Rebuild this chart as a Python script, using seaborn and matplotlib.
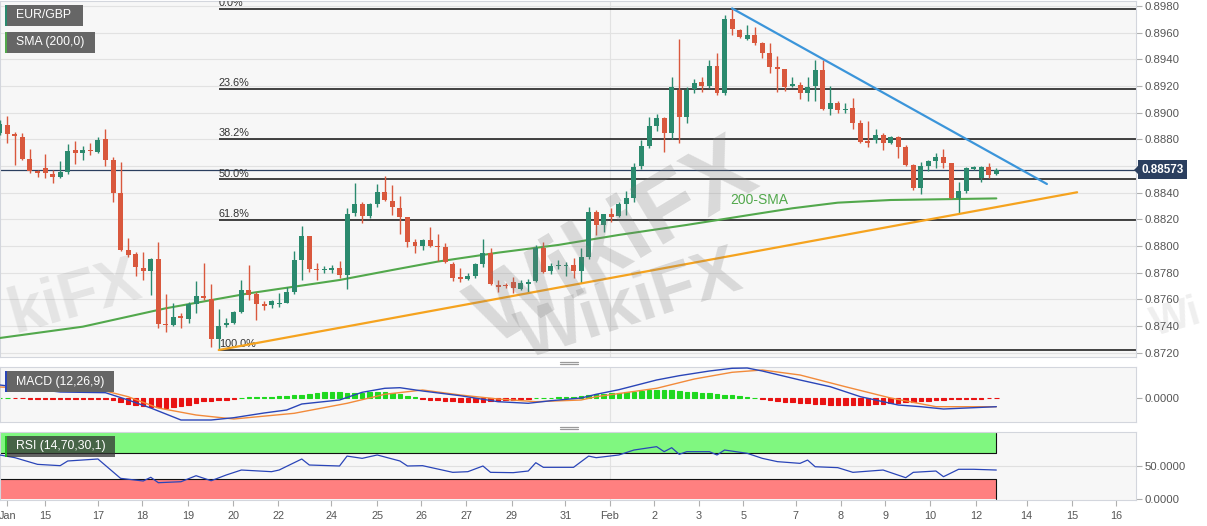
import numpy as np
import matplotlib
matplotlib.use("Agg")
import matplotlib.pyplot as plt
from matplotlib.patches import Rectangle, Polygon
from matplotlib.lines import Line2D
import matplotlib.transforms as mtransforms
import seaborn as sns

# EUR/GBP 4H candles, index -1 .. 131
opens = [0.88845, 0.88908, 0.88838, 0.88820, 0.88653, 0.88560, 0.88588, 0.88540, 0.88515, 0.88558,
         0.88720, 0.88700, 0.88720, 0.88708, 0.88800, 0.88645, 0.88400, 0.87970, 0.87938, 0.87838,
         0.87813, 0.87903, 0.87415, 0.87408, 0.87475, 0.87453, 0.87565, 0.87628, 0.87603, 0.87300,
         0.87408, 0.87425, 0.87508, 0.87670, 0.87638, 0.87565, 0.87558, 0.87563, 0.87575, 0.87658,
         0.87895, 0.88078, 0.87830, 0.87820, 0.87825, 0.87833, 0.87783, 0.88245, 0.88313, 0.88225,
         0.88313, 0.88408, 0.88340, 0.88288, 0.88215, 0.88033, 0.88003, 0.88045, 0.88000, 0.87990,
         0.87863, 0.87763, 0.87750, 0.87778, 0.87863, 0.87945, 0.87708, 0.87708, 0.87733, 0.87675,
         0.87720, 0.87738, 0.87983, 0.87815, 0.87850, 0.87850, 0.87858, 0.87815, 0.87915, 0.88258,
         0.88158, 0.88238, 0.88225, 0.88315, 0.88363, 0.88600, 0.88750, 0.88900, 0.88958, 0.88850,
         0.89170, 0.88970, 0.89175, 0.89228, 0.89200, 0.89350, 0.89150, 0.89700, 0.89620, 0.89550,
         0.89583, 0.89525, 0.89445, 0.89345, 0.89325, 0.89200, 0.89208, 0.89145, 0.89200, 0.89320,
         0.89025, 0.89075, 0.89020, 0.89033, 0.88920, 0.88788, 0.88795, 0.88833, 0.88775, 0.88820,
         0.88745, 0.88608, 0.88438, 0.88603, 0.88640, 0.88665, 0.88620, 0.88358, 0.88415, 0.88580,
         0.88508, 0.88590, 0.88538]
highs = [0.88945, 0.88975, 0.88858, 0.88845, 0.88725, 0.88570, 0.88688, 0.88570, 0.88640, 0.88763,
         0.88790, 0.88750, 0.88775, 0.88815, 0.88875, 0.88670, 0.88633, 0.88058, 0.87958, 0.87958,
         0.87908, 0.88033, 0.87640, 0.87575, 0.87495, 0.87583, 0.87740, 0.87875, 0.87715, 0.87525,
         0.87458, 0.87515, 0.87745, 0.87858, 0.87658, 0.87590, 0.87595, 0.87645, 0.87695, 0.87965,
         0.88153, 0.88078, 0.87870, 0.87850, 0.87858, 0.87888, 0.88288, 0.88470, 0.88333, 0.88325,
         0.88463, 0.88525, 0.88458, 0.88375, 0.88215, 0.88050, 0.88050, 0.88145, 0.88090, 0.88020,
         0.87883, 0.87833, 0.87795, 0.87870, 0.88050, 0.87983, 0.87745, 0.87725, 0.87770, 0.87745,
         0.87750, 0.88008, 0.88033, 0.87875, 0.87895, 0.87883, 0.87908, 0.87983, 0.88295, 0.88270,
         0.88240, 0.88283, 0.88333, 0.88415, 0.88620, 0.88795, 0.88970, 0.88990, 0.88970, 0.89270,
         0.89553, 0.89195, 0.89250, 0.89270, 0.89395, 0.89450, 0.89733, 0.89783, 0.89625, 0.89658,
         0.89645, 0.89533, 0.89525, 0.89425, 0.89325, 0.89270, 0.89233, 0.89265, 0.89395, 0.89395,
         0.89203, 0.89090, 0.89075, 0.89108, 0.88945, 0.88940, 0.88875, 0.88845, 0.88825, 0.88825,
         0.88758, 0.88615, 0.88633, 0.88645, 0.88695, 0.88725, 0.88625, 0.88483, 0.88590, 0.88600,
         0.88600, 0.88620, 0.88583]
lows = [0.88832, 0.88770, 0.88608, 0.88645, 0.88550, 0.88515, 0.88508, 0.88470, 0.88508, 0.88540,
        0.88615, 0.88645, 0.88683, 0.88700, 0.88600, 0.88333, 0.87965, 0.87920, 0.87775, 0.87745,
        0.87633, 0.87383, 0.87358, 0.87403, 0.87383, 0.87425, 0.87495, 0.87595, 0.87240, 0.87220,
        0.87395, 0.87415, 0.87495, 0.87595, 0.87445, 0.87520, 0.87533, 0.87545, 0.87570, 0.87638,
        0.87745, 0.87808, 0.87745, 0.87795, 0.87795, 0.87758, 0.87675, 0.88225, 0.88170, 0.88208,
        0.88290, 0.88340, 0.88233, 0.88090, 0.87990, 0.87945, 0.87970, 0.87990, 0.87890, 0.87870,
        0.87740, 0.87733, 0.87745, 0.87758, 0.87845, 0.87705, 0.87658, 0.87683, 0.87645, 0.87670,
        0.87645, 0.87733, 0.87795, 0.87790, 0.87825, 0.87775, 0.87758, 0.87725, 0.87900, 0.88083,
        0.88108, 0.88183, 0.88220, 0.88233, 0.88333, 0.88575, 0.88733, 0.88865, 0.88708, 0.88800,
        0.88770, 0.88925, 0.89145, 0.89158, 0.89183, 0.89133, 0.89133, 0.89583, 0.89558, 0.89545,
        0.89508, 0.89408, 0.89300, 0.89158, 0.89165, 0.89190, 0.89100, 0.89090, 0.89090, 0.89020,
        0.88983, 0.89000, 0.88995, 0.88875, 0.88775, 0.88745, 0.88770, 0.88720, 0.88765, 0.88658,
        0.88600, 0.88420, 0.88390, 0.88565, 0.88583, 0.88583, 0.88350, 0.88250, 0.88395, 0.88570,
        0.88483, 0.88508, 0.88533]
closes = [0.88915, 0.88840, 0.88825, 0.88653, 0.88563, 0.88550, 0.88545, 0.88520, 0.88558, 0.88715,
          0.88700, 0.88720, 0.88713, 0.88795, 0.88645, 0.88400, 0.87970, 0.87933, 0.87840, 0.87815,
          0.87903, 0.87415, 0.87408, 0.87470, 0.87458, 0.87565, 0.87625, 0.87608, 0.87300, 0.87403,
          0.87425, 0.87508, 0.87670, 0.87630, 0.87565, 0.87553, 0.87588, 0.87575, 0.87658, 0.87895,
          0.88078, 0.87825, 0.87820, 0.87828, 0.87833, 0.87783, 0.88240, 0.88313, 0.88225, 0.88313,
          0.88408, 0.88345, 0.88290, 0.88220, 0.88033, 0.88003, 0.88045, 0.88000, 0.87990, 0.87883,
          0.87758, 0.87753, 0.87778, 0.87863, 0.87945, 0.87715, 0.87695, 0.87700, 0.87683, 0.87720,
          0.87728, 0.87983, 0.87808, 0.87853, 0.87858, 0.87858, 0.87815, 0.87915, 0.88258, 0.88158,
          0.88238, 0.88220, 0.88315, 0.88363, 0.88595, 0.88750, 0.88900, 0.88958, 0.88850, 0.89190,
          0.88970, 0.89170, 0.89225, 0.89200, 0.89350, 0.89150, 0.89700, 0.89625, 0.89570, 0.89583,
          0.89525, 0.89445, 0.89345, 0.89325, 0.89195, 0.89215, 0.89145, 0.89195, 0.89320, 0.89025,
          0.89075, 0.89020, 0.89028, 0.88920, 0.88783, 0.88775, 0.88833, 0.88775, 0.88815, 0.88745,
          0.88608, 0.88433, 0.88603, 0.88638, 0.88665, 0.88620, 0.88358, 0.88415, 0.88583, 0.88590,
          0.88595, 0.88533, 0.88573]

# 200 SMA (candle index, value)
sma_k = [-1, 10, 21, 32, 44, 51, 57, 65, 73, 81, 90, 98, 104, 110, 117, 123, 131]
sma_v = [0.8731, 0.87395, 0.87533, 0.87645, 0.87745, 0.8782, 0.87883, 0.8795, 0.88008,
         0.88083, 0.88158, 0.8823, 0.88283, 0.88325, 0.88345, 0.8835, 0.88357]

# Fibonacci retracement
fib_ratios = [0.0, 0.236, 0.382, 0.5, 0.618, 1.0]
fib_labels = ["0.0%", "23.6%", "38.2%", "50.0%", "61.8%", "100.0%"]
fib_high, fib_low = 0.8978, 0.8722
fib_start = 28

# trend lines
res_x, res_y = [96, 137.7], [0.89782, 0.88465]
sup_x, sup_y = [28, 141.7], [0.8722, 0.88403]

# MACD (12,26,9), values in 1e-4
macd_k = [-1, 7, 13, 16, 19, 23, 27, 30, 34, 37, 39, 44, 47, 50, 52, 55, 60, 65, 69, 72, 76, 78,
          81, 86, 89, 93, 96, 98, 100, 105, 109, 113, 118, 121, 124, 131]
macd_v = [13, 6, 5.3, -2, -10, -22, -22, -19.7, -15, -12, -6, -2, 5.7, 9.7, 10.3, 7, 2.3, -3.7,
          -5.3, -2.7, 0, 3.7, 8.3, 18, 22.3, 27, 29.7, 30, 27, 18, 11.3, 1.3, -7, -8.7, -11, -8.7]
signal_k = [-1, 13, 16, 20, 25, 30, 38, 45, 50, 55, 60, 65, 70, 76, 78, 86, 91, 96, 100, 105,
            111, 117, 123, 131]
signal_v = [11, 7, 1.3, -10, -17, -21, -15.3, -5.3, 3.7, 8, 3, -1, -3.7, -2, 1.3, 9.7, 19, 25.7,
            28, 23, 11.3, 0, -8.7, -8.7]
hist_v = [0.5, 0.4, -0.3, -0.4, -0.5, -0.6, -0.7, -0.8, -0.9, -1.0,
          -1.0, -1.1, -1.1, -1.2, -1.2, -1.5, -3.5, -5.5, -7.0, -8.0,
          -8.5, -9.0, -9.5, -9.0, -8.0, -6.5, -4.5, -3.0, -2.5, -2.0,
          -1.5, -1.0, 0.5, 0.8, 1.0, 1.2, 1.5, 2.0, 2.5, 3.0,
          3.5, 4.5, 5.5, 6.5, 6.5, 6.0, 5.5, 5.0, 5.5, 6.0,
          6.5, 6.5, 5.5, 4.0, 2.5, 0.8, -0.8, -1.5, -2.0, -2.5,
          -3.0, -3.5, -3.5, -3.5, -3.5, -3.0, -2.5, -2.0, -1.5, -1.0,
          -0.7, 0.3, 0.4, 0.5, 0.8, 1.0, 1.5, 2.0, 3.0, 4.0,
          4.5, 5.0, 5.5, 6.0, 6.5, 7.5, 8.0, 8.5, 8.0, 8.0,
          7.0, 6.5, 6.0, 5.5, 5.0, 4.5, 3.5, 3.0, 2.0, 1.2,
          0.5, -0.5, -1.5, -2.5, -3.5, -4.0, -4.5, -5.0, -5.5, -6.0,
          -6.5, -6.5, -7.0, -7.0, -7.0, -6.5, -6.0, -5.5, -5.0, -4.5,
          -4.0, -3.5, -3.0, -2.5, -2.0, -1.5, -1.2, -1.0, -0.8, -0.6,
          -0.5, -0.3, -0.2]

# RSI (14)
rsi_k = [-1, 1, 4, 7, 8, 12, 15, 18, 19, 20, 23, 25, 27, 29, 31, 35, 36, 39, 40, 44, 45, 47, 49,
         52, 53, 55, 59, 61, 63, 64, 67, 69, 70, 71, 75, 77, 78, 81, 83, 86, 87, 88, 89, 90, 93,
         94, 95, 98, 100, 102, 105, 106, 107, 110, 112, 116, 119, 120, 123, 124, 126, 128, 131]
rsi_v = [66.7, 62.6, 52.5, 50.5, 57.6, 60.6, 31.3, 27.3, 32.9, 24.7, 26.2, 35.3, 27.7, 36.4,
         43.9, 41.4, 43.9, 60.6, 51.5, 50, 65, 61.6, 66.7, 57.6, 50, 50.5, 40.4, 41.4, 50, 40.4,
         39.9, 42.4, 55, 48, 48, 65, 62.6, 66.7, 74.2, 79.3, 71.7, 77.7, 67.7, 71.7, 71.7, 66.7,
         74.2, 69.2, 61.6, 56.6, 54, 59, 48.9, 47.5, 40.4, 43.9, 32.3, 40.4, 42.4, 33.8, 45, 45,
         43.9]

day_labels = ["Jan", "15", "17", "18", "19", "20", "22", "24", "25", "26", "27", "29", "31",
              "Feb", "2", "3", "5", "7", "8", "9", "10", "12", "14", "15", "16"]
day_pos = [0, 5, 12, 17.9, 23.9, 29.9, 35.9, 42.9, 49, 54.8, 60.8, 66.8, 73.9,
           79.8, 85.7, 91.6, 97.5, 104.4, 110.4, 116.3, 122.2, 128.3, 135, 141, 146.9]

sns.set_theme(style="white")
plt.rcParams["font.family"] = ["Liberation Sans", "DejaVu Sans"]

W, H = 1207, 526
fig = plt.figure(figsize=(W / 100, H / 100), dpi=100, facecolor="white")


def rect(x0, y0, x1, y1):
    return [x0 / W, 1 - y1 / H, (x1 - x0) / W, (y1 - y0) / H]


GREEN, RED = "#2b8a6e", "#d9583d"
PANEL = "#f7f7f7"
XMIN, XMAX = -0.97, 149.5
feb_pos = day_pos[day_labels.index("Feb")]

ax = fig.add_axes(rect(0, 1, 1136, 357))
ax_macd = fig.add_axes(rect(0, 367, 1136, 422))
ax_rsi = fig.add_axes(rect(0, 432, 1136, 500))

for a in (ax, ax_macd, ax_rsi):
    a.set_facecolor(PANEL)
    a.set_xlim(XMIN, XMAX)
    a.yaxis.tick_right()
    a.tick_params(axis="y", length=4, width=0.8, color="#b0b0b0", labelsize=8.2,
                  labelcolor="#555555", pad=2, right=True, left=False)
    for s in a.spines.values():
        s.set_color("#d3d6dd")
        s.set_linewidth(0.8)
    a.axvline(feb_pos, color="#e2e2e2", lw=0.8, zorder=0)

# ---- main price panel
k = np.arange(-1, len(closes) - 1)
o, h, l, c = map(np.array, (opens, highs, lows, closes))
cols = np.where(c >= o, GREEN, RED)
last = closes[-1]
ax.set_ylim(0.871675, 0.898375)
yt = np.arange(0.8720, 0.89801, 0.0020)
ax.set_yticks(yt)
# the price tag covers the tick label nearest to the last close
ax.set_yticklabels(["" if abs(v - last) < 0.0005 else f"{v:.4f}" for v in yt])
ax.set_xticks([])
ax.grid(axis="y", color="#e2e2e2", lw=0.8)
ax.set_axisbelow(True)

levels = [fib_high - r * (fib_high - fib_low) for r in fib_ratios]
ax.hlines(levels, fib_start, XMAX, color="#111111", lw=1.1, zorder=2)
for lv, lab in zip(levels, fib_labels):
    ax.annotate(lab, (fib_start, lv), xytext=(0, 2), textcoords="offset points",
                ha="left", va="baseline", fontsize=7.8, color="#333333", annotation_clip=False,
                clip_on=True)

ax.axhline(last, color="#2b3f5f", lw=0.9, zorder=2.5)

sns.lineplot(x=sma_k, y=sma_v, ax=ax, color="#52a84c", lw=1.5, legend=False, zorder=3)
ax.text(95.7, 0.88345, "200-SMA", color="#52a84c", fontsize=10, ha="left", va="center")

ax.vlines(k, l, h, colors=cols, lw=1.0, zorder=4)
bh = np.maximum(np.abs(c - o), 0.00012)
ax.bar(k, bh, bottom=(o + c) / 2 - bh / 2, width=0.66, color=cols, lw=0, zorder=5)

sns.lineplot(x=res_x, y=res_y, ax=ax, color="#3b95da", lw=1.6, legend=False, zorder=6)
sns.lineplot(x=sup_x, y=sup_y, ax=ax, color="#f5a31f", lw=1.6, legend=False, zorder=6)

blend = mtransforms.blended_transform_factory(ax.transAxes, ax.transData)
ax.text(1.0045, last, f"{last:.5f}", transform=blend, ha="left", va="center", color="white",
        fontsize=8.4, weight="bold",
        bbox=dict(boxstyle="square,pad=0.3", fc="#2b3f5f", ec="none"), clip_on=False)

# ---- MACD panel
hv = np.array(hist_v) * 1e-4
hcol = np.where(hv >= 0, "#1fd81f", "#e81212")
ax_macd.set_ylim(-0.0024, 0.0031)
ax_macd.set_yticks([0.0])
ax_macd.set_yticklabels(["0.0000"])
ax_macd.set_xticks([])
ax_macd.bar(k, hv, width=0.6, color=hcol, edgecolor=hcol, lw=0.8, zorder=2)
sns.lineplot(x=signal_k, y=np.array(signal_v) * 1e-4, ax=ax_macd, color="#f28a3a", lw=1.0,
             legend=False, zorder=3)
sns.lineplot(x=macd_k, y=np.array(macd_v) * 1e-4, ax=ax_macd, color="#2a45b8", lw=1.0,
             legend=False, zorder=4)

# ---- RSI panel
rsi_end = k[-1]
ax_rsi.set_ylim(-1.5, 101.5)
ax_rsi.set_yticks([0, 50])
ax_rsi.set_yticklabels(["0.0000", "50.0000"])
ax_rsi.axhline(50, color="#e0e0e0", lw=0.8, zorder=0)
ax_rsi.fill_between([XMIN, rsi_end], 70, 100, color="#80f780", lw=0, zorder=1)
ax_rsi.fill_between([XMIN, rsi_end], 0, 30, color="#ff8080", lw=0, zorder=1)
ax_rsi.plot([XMIN, rsi_end, rsi_end], [70, 70, 100], color="#111111", lw=0.8, zorder=2)
ax_rsi.plot([XMIN, rsi_end, rsi_end], [30, 30, 0], color="#111111", lw=0.8, zorder=2)
sns.lineplot(x=rsi_k, y=rsi_v, ax=ax_rsi, color="#2a45b8", lw=0.9, legend=False, zorder=3)
ax_rsi.set_xticks(day_pos)
ax_rsi.set_xticklabels(day_labels)
ax_rsi.tick_params(axis="x", bottom=True, length=4, width=0.8, color="#b0b0b0", labelsize=7.8,
                   labelcolor="#555555", pad=4)

for a in (ax, ax_macd, ax_rsi):
    a.set_xlabel("")
    a.set_ylabel("")


# ---- label boxes
def label_box(x0, y0, x1, y1, text, stripe, fc="#666666", alpha=1.0):
    fig.add_artist(Rectangle((x0 / W, 1 - y1 / H), (x1 - x0) / W, (y1 - y0) / H,
                             transform=fig.transFigure, fc=fc, ec="none", alpha=alpha, zorder=10))
    fig.add_artist(Rectangle((x0 / W, 1 - y1 / H), 2 / W, (y1 - y0) / H,
                             transform=fig.transFigure, fc=stripe, ec="none", zorder=11))
    fig.text((x0 + 11) / W, 1 - (y0 + y1) / 2 / H, text, color="white", fontsize=8.8,
             ha="left", va="center", zorder=12)


label_box(5, 5, 83, 26, "EUR/GBP", GREEN)
label_box(5, 32, 95, 53, "SMA (200,0)", "#52a84c")
label_box(5, 371, 114, 392, "MACD (12,26,9)", "#2a45b8")
label_box(5, 436, 115, 457, "RSI (14,70,30,1)", "#22bb22", fc="#333333", alpha=0.75)

# price tag arrow
fig.add_artist(Polygon([(1134 / W, 1 - 170 / H), (1140 / W, 1 - 164 / H), (1140 / W, 1 - 176 / H)],
                       closed=True, transform=fig.transFigure, fc="#2b3f5f", ec="none", zorder=12))

# panel resize handles
for yy in (361.5, 363.5, 426.5, 428.5):
    fig.add_artist(Line2D([560 / W, 578 / W], [1 - yy / H, 1 - yy / H], transform=fig.transFigure,
                          color="#9a9a9a", lw=0.9))

# watermarks
wm = dict(color="#7a7a7a", alpha=0.24, weight="bold", ha="center", va="center", zorder=20)
fig.text(615 / W, 1 - 245 / H, "WikiFX", fontsize=68, rotation=31, **wm)
fig.text(630 / W, 1 - 306 / H, "WikiFX", fontsize=50, rotation=18, **wm)
fig.text(2 / W, 1 - 298 / H, "kiFX", fontsize=46, rotation=16,
         **{**wm, "ha": "left", "alpha": 0.15})
fig.text(1146 / W, 1 - 318 / H, "Wi", fontsize=30, rotation=16,
         **{**wm, "ha": "left", "alpha": 0.12})

fig.savefig("out.png", dpi=100, facecolor="white")
